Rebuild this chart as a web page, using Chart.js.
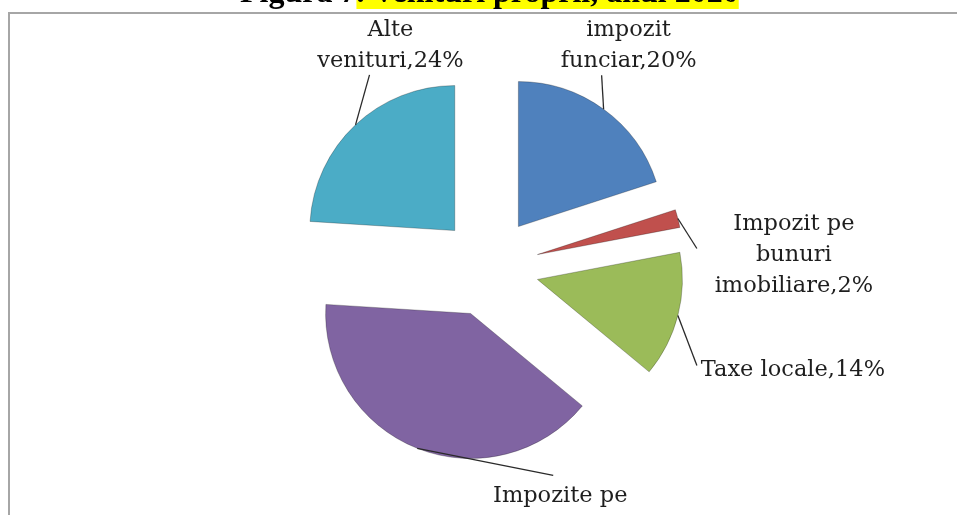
<!DOCTYPE html>
<html>
<head>
<meta charset="utf-8">
<script src="https://cdn.jsdelivr.net/npm/chart.js@4.4.1/dist/chart.umd.min.js"></script>
<style>
  html, body { margin: 0; padding: 0; background: #fff; }
  #wrap { position: relative; width: 957px; height: 515px; }
</style>
</head>
<body>
<div id="wrap"><canvas id="chart"></canvas></div>
<script>
const categories = ['impozit funciar', 'Impozit pe bunuri imobiliare', 'Taxe locale', 'Impozite pe venit', 'Alte venituri'];
const shares = [20, 2, 14, 40, 24];
const colors = ['#4F81BD', '#C0504D', '#9BBB59', '#8064A2', '#4BACC6'];
// how many words go on each line of a data label
const lineBreaks = [[1, 1], [2, 1, 1], [2], [2, 1], [1, 1]];
const titleStart = 'Figura 7';
const titleRest = '. Venituri proprii, anul 2020';

// label placement, relative to the middle of each slice's outer edge
const leaderEnd = [[-2, -34], [19, 30], [19, 50], [136, 27], [14, -50]];
const textPos = [[25, -73], [116, 11], [115, 61], [143, 54], [35, -89]];

const EXPLODE = 50;
const LABEL_FONT = '22.5px "DejaVu Serif"';
const LINE_H = 31;

function labelLines(i) {
  const words = (categories[i] + ',' + shares[i] + '%').split(' ');
  const out = [];
  let k = 0;
  lineBreaks[i].forEach(n => { out.push(words.slice(k, k + n).join(' ')); k += n; });
  return out;
}

// move every slice out from the centre along its middle angle
const explode = {
  id: 'explode',
  afterDatasetsUpdate(chart) {
    chart.getDatasetMeta(0).data.forEach(arc => {
      const mid = (arc.startAngle + arc.endAngle) / 2;
      arc.x += Math.cos(mid) * EXPLODE;
      arc.y += Math.sin(mid) * EXPLODE;
    });
  }
};

const decorations = {
  id: 'decorations',
  afterDraw(chart) {
    const ctx = chart.ctx;
    ctx.save();

    // data labels with leader lines
    chart.getDatasetMeta(0).data.forEach((arc, i) => {
      const mid = (arc.startAngle + arc.endAngle) / 2;
      const px = arc.x + Math.cos(mid) * arc.outerRadius;
      const py = arc.y + Math.sin(mid) * arc.outerRadius;
      ctx.strokeStyle = '#2a2a2a';
      ctx.lineWidth = 1.3;
      ctx.beginPath();
      ctx.moveTo(px, py);
      ctx.lineTo(px + leaderEnd[i][0], py + leaderEnd[i][1]);
      ctx.stroke();

      ctx.fillStyle = '#1e1e1e';
      ctx.font = LABEL_FONT;
      ctx.textAlign = 'center';
      ctx.textBaseline = 'alphabetic';
      labelLines(i).forEach((t, j) => {
        ctx.fillText(t, px + textPos[i][0], py + textPos[i][1] + j * LINE_H);
      });
    });

    // frame
    ctx.strokeStyle = '#a6a6a6';
    ctx.lineWidth = 2;
    ctx.beginPath();
    ctx.moveTo(9, 515);
    ctx.lineTo(9, 13);
    ctx.lineTo(957, 13);
    ctx.stroke();

    // caption, cut by the top edge
    ctx.font = 'bold 32px "Liberation Serif"';
    ctx.textAlign = 'left';
    const x0 = 240;
    const w1 = ctx.measureText(titleStart).width;
    const w2 = ctx.measureText(titleRest).width;
    ctx.fillStyle = '#ffff00';
    ctx.fillRect(x0 + w1, -30, w2, 39);
    ctx.fillStyle = '#000';
    ctx.fillText(titleStart + titleRest, x0, 2);

    ctx.restore();
  }
};

new Chart(document.getElementById('chart'), {
  type: 'pie',
  data: {
    labels: categories,
    datasets: [{
      data: shares,
      backgroundColor: colors,
      borderColor: 'rgba(0,0,0,0.25)',
      borderWidth: 1
    }]
  },
  options: {
    responsive: true,
    maintainAspectRatio: false,
    animation: false,
    events: [],
    radius: 145,
    layout: { padding: { left: 21, top: 19 } },
    plugins: {
      legend: { display: false },
      tooltip: { enabled: false }
    }
  },
  plugins: [explode, decorations]
});
</script>
</body>
</html>
